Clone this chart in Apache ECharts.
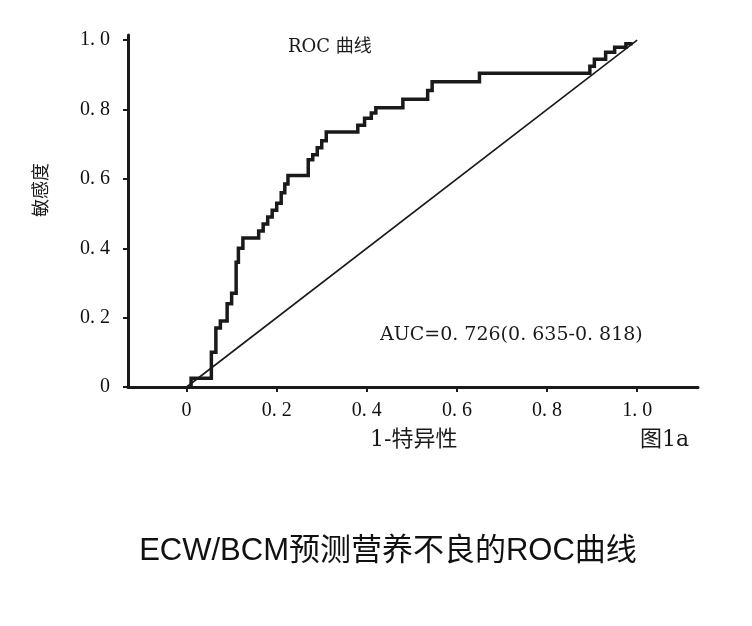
<!DOCTYPE html>
<html>
<head>
<meta charset="utf-8">
<script src="https://cdn.jsdelivr.net/npm/echarts@6/dist/echarts.min.js"></script>
<style>html,body{margin:0;padding:0;background:#fff;}#c{width:752px;height:626px;}</style>
</head>
<body>
<div id="c"></div>
<script>
// ROC curve (1-specificity, sensitivity), read as a staircase
var rocX = [0.01, 0.01, 0.055, 0.055, 0.065, 0.065, 0.075, 0.075, 0.09, 0.09, 0.10, 0.10, 0.11, 0.11, 0.115, 0.115, 0.125, 0.125,
  0.16, 0.16, 0.17, 0.17, 0.18, 0.18, 0.19, 0.19, 0.20, 0.20, 0.21, 0.21, 0.218, 0.218, 0.225, 0.225,
  0.27, 0.27, 0.28, 0.28, 0.29, 0.29, 0.30, 0.30, 0.31, 0.31,
  0.38, 0.38, 0.395, 0.395, 0.41, 0.41, 0.42, 0.42,
  0.48, 0.48, 0.535, 0.535, 0.545, 0.545, 0.65, 0.65,
  0.895, 0.895, 0.905, 0.905, 0.93, 0.93, 0.95, 0.95, 0.975, 0.975, 0.99];
var rocY = [0.00, 0.025, 0.025, 0.10, 0.10, 0.17, 0.17, 0.19, 0.19, 0.24, 0.24, 0.27, 0.27, 0.36, 0.36, 0.40, 0.40, 0.43,
  0.43, 0.45, 0.45, 0.47, 0.47, 0.49, 0.49, 0.51, 0.51, 0.53, 0.53, 0.56, 0.56, 0.585, 0.585, 0.61,
  0.61, 0.655, 0.655, 0.67, 0.67, 0.69, 0.69, 0.71, 0.71, 0.735,
  0.735, 0.755, 0.755, 0.775, 0.775, 0.79, 0.79, 0.805,
  0.805, 0.83, 0.83, 0.855, 0.855, 0.88, 0.88, 0.905,
  0.905, 0.925, 0.925, 0.945, 0.945, 0.965, 0.965, 0.98, 0.98, 0.99, 0.99];
var refX = [0, 1];
var refY = [0, 1];
var tickValues = [0, 0.2, 0.4, 0.6, 0.8, 1.0];
var tickLabels = ['0', '0. 2', '0. 4', '0. 6', '0. 8', '1. 0'];
var xName = '1-特异性';
var yName = '敏感度';
var plotTitle = 'ROC 曲线';
var aucText = 'AUC=0. 726(0. 635-0. 818)';
var figLabel = '图1a';
var caption = 'ECW/BCM预测营养不良的ROC曲线';

function pairs(xs, ys) { return xs.map(function (x, i) { return [x, ys[i]]; }); }
function fmt(v) {
  for (var i = 0; i < tickValues.length; i++) if (Math.abs(tickValues[i] - v) < 1e-6) return tickLabels[i];
  return '';
}
var serif = '"DejaVu Serif", "Liberation Serif", "Noto Sans CJK SC", serif';
var tickFont = '"Liberation Serif", "DejaVu Serif", serif';
var ink = '#1a1a1a';

var chart = echarts.init(document.getElementById('c'));
chart.setOption({
  backgroundColor: '#ffffff',
  animation: false,
  grid: { left: 128, top: 35, right: 54, bottom: 239, containLabel: false },
  xAxis: {
    type: 'value', min: -0.13, max: 1.135,
    splitLine: { show: false },
    axisLine: { onZero: false, lineStyle: { color: ink, width: 3 } },
    axisTick: { show: true, customValues: tickValues, length: 5, lineStyle: { color: ink, width: 2 } },
    axisLabel: { customValues: tickValues, formatter: fmt, margin: 14, fontFamily: tickFont, fontSize: 20, color: '#111' }
  },
  yAxis: {
    type: 'value', min: 0, max: 1.015,
    splitLine: { show: false },
    axisLine: { onZero: false, lineStyle: { color: ink, width: 3 } },
    axisTick: { show: true, customValues: tickValues, length: 5, lineStyle: { color: ink, width: 2 } },
    axisLabel: { customValues: tickValues, formatter: fmt, margin: 18, fontFamily: tickFont, fontSize: 20, color: '#111' }
  },
  series: [
    {
      type: 'line', data: pairs(refX, refY), symbol: 'none',
      lineStyle: { color: ink, width: 1.6 }, z: 2
    },
    {
      type: 'line', data: pairs(rocX, rocY), symbol: 'none',
      lineStyle: { color: ink, width: 3.5, join: 'miter' }, z: 3
    }
  ],
  graphic: [
    { type: 'text', left: 288, top: 38, style: { text: plotTitle, font: '18px ' + serif, fill: ink } },
    { type: 'text', left: 380, top: 326, style: { text: aucText, font: '19px ' + serif, fill: ink } },
    { type: 'text', left: 370, top: 429, style: { text: xName, font: '22px ' + serif, fill: ink } },
    { type: 'text', left: 640, top: 429, style: { text: figLabel, font: '22px ' + serif, fill: ink } },
    { type: 'text', x: 42, y: 190, rotation: Math.PI / 2, style: { text: yName, font: '18px ' + serif, fill: ink, align: 'center', verticalAlign: 'middle' } },
    { type: 'text', x: 388, y: 551, style: { text: caption, font: '31px "Liberation Sans", "Noto Sans CJK SC", sans-serif', fill: '#111', align: 'center', verticalAlign: 'middle' } }
  ]
});
</script>
</body>
</html>
